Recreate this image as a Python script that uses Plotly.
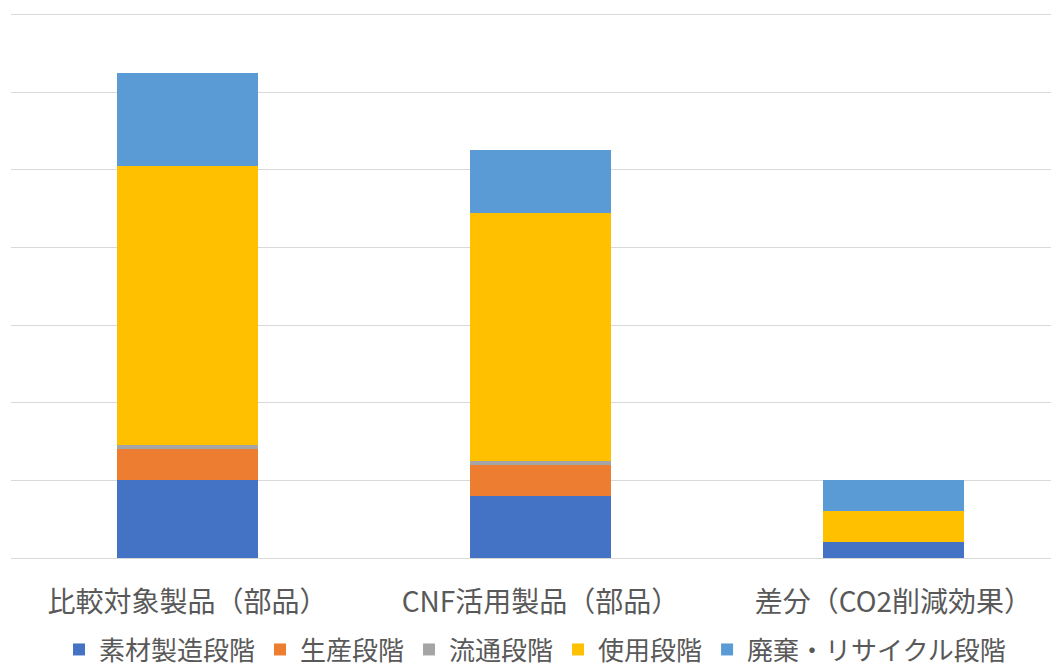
import plotly.graph_objects as go

categories = ["比較対象製品（部品）", "CNF活用製品（部品）", "差分（CO2削減効果）"]
series_names = ["素材製造段階", "生産段階", "流通段階", "使用段階", "廃棄・リサイクル段階"]
material = [1.0, 0.8, 0.2]
production = [0.4, 0.4, 0.0]
distribution = [0.05, 0.05, 0.0]
usage = [3.6, 3.2, 0.4]
disposal = [1.2, 0.8, 0.4]
colors = ["#4472C4", "#ED7D31", "#A5A5A5", "#FFC000", "#5B9BD5"]

values = [material, production, distribution, usage, disposal]

fig = go.Figure()
for name, vals, col in zip(series_names, values, colors):
    fig.add_trace(go.Bar(x=categories, y=vals, name=name, marker=dict(color=col, line=dict(width=0)), width=0.4))

FONT = "Noto Sans CJK JP, Meiryo, sans-serif"
fig.update_layout(
    barmode="stack",
    width=1051, height=660,
    margin=dict(l=3, r=0, t=5, b=110, autoexpand=False),
    paper_bgcolor="white", plot_bgcolor="white",
    font=dict(family=FONT, size=26, color="#595959"),
    xaxis=dict(range=[-0.5, 2.469], showline=False, ticks="", tickfont=dict(size=28, color="#595959"),
               ticklabelstandoff=25, automargin=False),
    yaxis=dict(range=[0, 7.02], dtick=1, showticklabels=False, gridcolor="#D9D9D9", gridwidth=1,
               zeroline=True, zerolinecolor="#D9D9D9", zerolinewidth=1, automargin=False),
    legend=dict(orientation="h", x=0.5, xanchor="center", y=-0.168, yanchor="middle",
                font=dict(size=26, color="#595959"), itemwidth=30, traceorder="normal"),
    bargap=0.6,
)

fig.write_html("out.html")
